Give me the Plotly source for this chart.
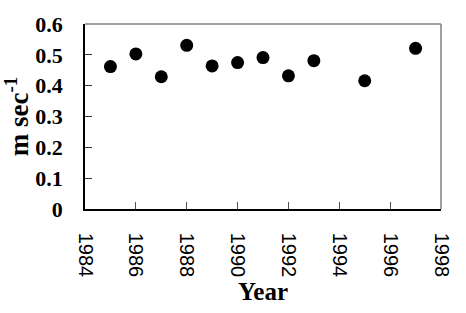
import plotly.graph_objects as go

years = [1985, 1986, 1987, 1988, 1989, 1990, 1991, 1992, 1993, 1995, 1997]
speed = [0.462, 0.503, 0.429, 0.531, 0.464, 0.475, 0.491, 0.432, 0.481, 0.416, 0.521]
x_ticks = [1984, 1986, 1988, 1990, 1992, 1994, 1996, 1998]
y_ticks = [0, 0.1, 0.2, 0.3, 0.4, 0.5, 0.6]
y_labels = ["0", "0.1", "0.2", "0.3", "0.4", "0.5", "0.6"]

fig = go.Figure()
fig.add_trace(go.Scatter(
    x=years, y=speed, mode="markers",
    marker=dict(color="black", size=13, line=dict(width=0)),
    showlegend=False,
))

serif_bold = "Liberation Serif"
fig.update_layout(
    width=466, height=313,
    margin=dict(l=85, r=25, t=15, b=104),
    paper_bgcolor="white", plot_bgcolor="white",
    xaxis=dict(
        range=[1984, 1998], tickvals=x_ticks, ticktext=[str(v) for v in x_ticks],
        tickangle=90, ticks="inside", ticklen=7, tickcolor="#555",
        showline=True, linecolor="black", linewidth=1.5, showgrid=False, zeroline=False,
        tickfont=dict(family="Liberation Sans", size=20, color="black"),
        ticklabelstandoff=18,
        title=dict(text="<b>Year</b>", font=dict(family=serif_bold, size=25, color="black"), standoff=6),
    ),
    yaxis=dict(
        range=[0, 0.6], tickvals=y_ticks, ticktext=["<b>%s</b>" % t for t in y_labels],
        ticks="inside", ticklen=7, tickcolor="#333",
        showline=True, linecolor="black", linewidth=1.5, showgrid=False, zeroline=False,
        tickfont=dict(family=serif_bold, size=22, color="black"),
        ticklabelstandoff=16,
        title=dict(text="<b>m sec<sup>-1</sup></b>", font=dict(family=serif_bold, size=27, color="black"), standoff=0),
    ),
    shapes=[
        dict(type="line", xref="paper", yref="paper", x0=0, x1=1, y0=1, y1=1,
             line=dict(color="#808080", width=1.5)),
        dict(type="line", xref="paper", yref="paper", x0=1, x1=1, y0=0, y1=1,
             line=dict(color="#808080", width=1.5)),
    ],
)

fig.write_html("out.html")
